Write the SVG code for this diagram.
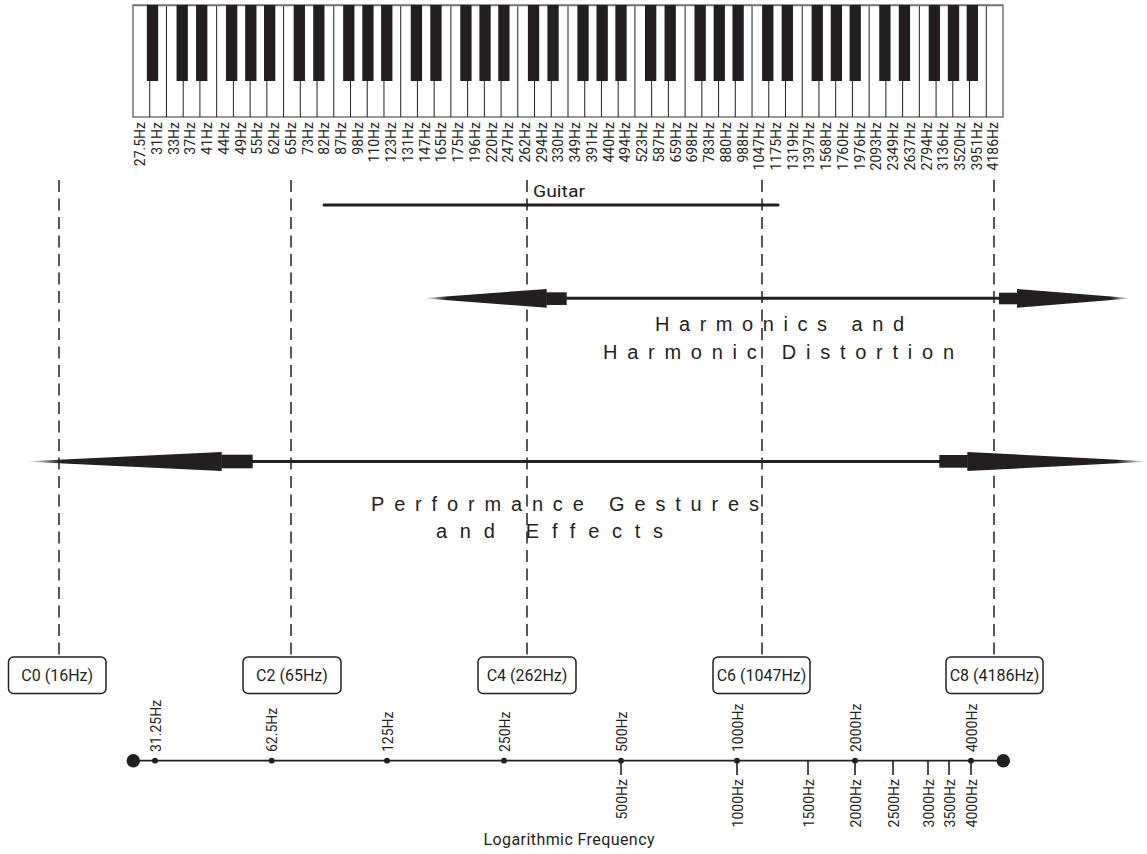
<svg xmlns="http://www.w3.org/2000/svg" width="1147" height="854" viewBox="0 0 1147 854">
<style>
.k{font-family:Roboto,"Liberation Sans",sans-serif;font-size:14px;fill:#231f20;text-anchor:end}
.au{font-family:Roboto,"Liberation Sans",sans-serif;font-size:14px;fill:#231f20;text-anchor:start}
.ad{font-family:Roboto,"Liberation Sans",sans-serif;font-size:14px;fill:#231f20;text-anchor:end}
.bx rect{fill:#fff;stroke:#231f20;stroke-width:1.5}
.bx text{font-family:Roboto,"Liberation Sans",sans-serif;font-size:16px;fill:#231f20;text-anchor:middle}
.big{font-family:"Liberation Sans",Arial,sans-serif;font-size:20px;fill:#231f20}
.dash{stroke:#231f20;stroke-width:1.5;stroke-dasharray:12 6.5;fill:none}
.bk{fill:#231f20}
.dot{fill:#231f20}
.tick{stroke:#231f20;stroke-width:1.6}
</style>
<defs>
<linearGradient id="fadeL" x1="0" y1="0" x2="1" y2="0">
<stop offset="0" stop-color="#231f20" stop-opacity="0"/>
<stop offset="0.18" stop-color="#231f20" stop-opacity="1"/>
<stop offset="1" stop-color="#231f20" stop-opacity="1"/>
</linearGradient>
<linearGradient id="fadeR" x1="0" y1="0" x2="1" y2="0">
<stop offset="0" stop-color="#231f20" stop-opacity="1"/>
<stop offset="0.83" stop-color="#231f20" stop-opacity="1"/>
<stop offset="1" stop-color="#231f20" stop-opacity="0"/>
</linearGradient>
</defs>
<rect width="1147" height="854" fill="#fff"/>

<g id="keyboard">
<rect x="133" y="5" width="870" height="112" fill="#fff" stroke="#555" stroke-width="1.2"/>
<path stroke="#231f20" stroke-width="1" fill="none" d="M149.73 5V117M166.46 5V117M183.19 5V117M199.92 5V117M216.65 5V117M233.38 5V117M250.12 5V117M266.85 5V117M283.58 5V117M300.31 5V117M317.04 5V117M333.77 5V117M350.5 5V117M367.23 5V117M383.96 5V117M400.69 5V117M417.42 5V117M434.15 5V117M450.88 5V117M467.62 5V117M484.35 5V117M501.08 5V117M517.81 5V117M534.54 5V117M551.27 5V117M568 5V117M584.73 5V117M601.46 5V117M618.19 5V117M634.92 5V117M651.65 5V117M668.38 5V117M685.12 5V117M701.85 5V117M718.58 5V117M735.31 5V117M752.04 5V117M768.77 5V117M785.5 5V117M802.23 5V117M818.96 5V117M835.69 5V117M852.42 5V117M869.15 5V117M885.88 5V117M902.62 5V117M919.35 5V117M936.08 5V117M952.81 5V117M969.54 5V117M986.27 5V117"/>
<line x1="133" y1="5.5" x2="1003" y2="5.5" stroke="#777" stroke-width="1.5"/>
<g class="bk">
<rect x="146.88" y="5" width="11.3" height="76"/>
<rect x="176.54" y="5" width="11.3" height="76"/>
<rect x="196.07" y="5" width="11.3" height="76"/>
<rect x="226.03" y="5" width="11.3" height="76"/>
<rect x="245.17" y="5" width="11.3" height="76"/>
<rect x="264" y="5" width="11.3" height="76"/>
<rect x="293.66" y="5" width="11.3" height="76"/>
<rect x="313.19" y="5" width="11.3" height="76"/>
<rect x="343.15" y="5" width="11.3" height="76"/>
<rect x="362.28" y="5" width="11.3" height="76"/>
<rect x="381.11" y="5" width="11.3" height="76"/>
<rect x="410.77" y="5" width="11.3" height="76"/>
<rect x="430.3" y="5" width="11.3" height="76"/>
<rect x="460.27" y="5" width="11.3" height="76"/>
<rect x="479.4" y="5" width="11.3" height="76"/>
<rect x="498.23" y="5" width="11.3" height="76"/>
<rect x="527.89" y="5" width="11.3" height="76"/>
<rect x="547.42" y="5" width="11.3" height="76"/>
<rect x="577.38" y="5" width="11.3" height="76"/>
<rect x="596.51" y="5" width="11.3" height="76"/>
<rect x="615.34" y="5" width="11.3" height="76"/>
<rect x="645" y="5" width="11.3" height="76"/>
<rect x="664.53" y="5" width="11.3" height="76"/>
<rect x="694.5" y="5" width="11.3" height="76"/>
<rect x="713.63" y="5" width="11.3" height="76"/>
<rect x="732.46" y="5" width="11.3" height="76"/>
<rect x="762.12" y="5" width="11.3" height="76"/>
<rect x="781.65" y="5" width="11.3" height="76"/>
<rect x="811.61" y="5" width="11.3" height="76"/>
<rect x="830.74" y="5" width="11.3" height="76"/>
<rect x="849.57" y="5" width="11.3" height="76"/>
<rect x="879.23" y="5" width="11.3" height="76"/>
<rect x="898.77" y="5" width="11.3" height="76"/>
<rect x="928.73" y="5" width="11.3" height="76"/>
<rect x="947.86" y="5" width="11.3" height="76"/>
<rect x="966.69" y="5" width="11.3" height="76"/>
</g>
<g id="key-labels">
<text class="k" transform="translate(145.2,122) rotate(-90)">27.5Hz</text>
<text class="k" transform="translate(161.9,122) rotate(-90)">31Hz</text>
<text class="k" transform="translate(178.6,122) rotate(-90)">33Hz</text>
<text class="k" transform="translate(195.4,122) rotate(-90)">37Hz</text>
<text class="k" transform="translate(212.1,122) rotate(-90)">41Hz</text>
<text class="k" transform="translate(228.8,122) rotate(-90)">44Hz</text>
<text class="k" transform="translate(245.6,122) rotate(-90)">49Hz</text>
<text class="k" transform="translate(262.3,122) rotate(-90)">55Hz</text>
<text class="k" transform="translate(279,122) rotate(-90)">62Hz</text>
<text class="k" transform="translate(295.8,122) rotate(-90)">65Hz</text>
<text class="k" transform="translate(312.5,122) rotate(-90)">73Hz</text>
<text class="k" transform="translate(329.2,122) rotate(-90)">82Hz</text>
<text class="k" transform="translate(345.9,122) rotate(-90)">87Hz</text>
<text class="k" transform="translate(362.7,122) rotate(-90)">98Hz</text>
<text class="k" transform="translate(379.4,122) rotate(-90)">110Hz</text>
<text class="k" transform="translate(396.1,122) rotate(-90)">123Hz</text>
<text class="k" transform="translate(412.9,122) rotate(-90)">131Hz</text>
<text class="k" transform="translate(429.6,122) rotate(-90)">147Hz</text>
<text class="k" transform="translate(446.3,122) rotate(-90)">165Hz</text>
<text class="k" transform="translate(463.1,122) rotate(-90)">175Hz</text>
<text class="k" transform="translate(479.8,122) rotate(-90)">196Hz</text>
<text class="k" transform="translate(496.5,122) rotate(-90)">220Hz</text>
<text class="k" transform="translate(513.3,122) rotate(-90)">247Hz</text>
<text class="k" transform="translate(530,122) rotate(-90)">262Hz</text>
<text class="k" transform="translate(546.7,122) rotate(-90)">294Hz</text>
<text class="k" transform="translate(563.4,122) rotate(-90)">330Hz</text>
<text class="k" transform="translate(580.2,122) rotate(-90)">349Hz</text>
<text class="k" transform="translate(596.9,122) rotate(-90)">391Hz</text>
<text class="k" transform="translate(613.6,122) rotate(-90)">440Hz</text>
<text class="k" transform="translate(630.4,122) rotate(-90)">494Hz</text>
<text class="k" transform="translate(647.1,122) rotate(-90)">523Hz</text>
<text class="k" transform="translate(663.8,122) rotate(-90)">587Hz</text>
<text class="k" transform="translate(680.6,122) rotate(-90)">659Hz</text>
<text class="k" transform="translate(697.3,122) rotate(-90)">698Hz</text>
<text class="k" transform="translate(714,122) rotate(-90)">783Hz</text>
<text class="k" transform="translate(730.8,122) rotate(-90)">880Hz</text>
<text class="k" transform="translate(747.5,122) rotate(-90)">988Hz</text>
<text class="k" transform="translate(764.2,122) rotate(-90)">1047Hz</text>
<text class="k" transform="translate(780.9,122) rotate(-90)">1175Hz</text>
<text class="k" transform="translate(797.7,122) rotate(-90)">1319Hz</text>
<text class="k" transform="translate(814.4,122) rotate(-90)">1397Hz</text>
<text class="k" transform="translate(831.1,122) rotate(-90)">1568Hz</text>
<text class="k" transform="translate(847.9,122) rotate(-90)">1760Hz</text>
<text class="k" transform="translate(864.6,122) rotate(-90)">1976Hz</text>
<text class="k" transform="translate(881.3,122) rotate(-90)">2093Hz</text>
<text class="k" transform="translate(898.1,122) rotate(-90)">2349Hz</text>
<text class="k" transform="translate(914.8,122) rotate(-90)">2637Hz</text>
<text class="k" transform="translate(931.5,122) rotate(-90)">2794Hz</text>
<text class="k" transform="translate(948.3,122) rotate(-90)">3136Hz</text>
<text class="k" transform="translate(965,122) rotate(-90)">3520Hz</text>
<text class="k" transform="translate(981.7,122) rotate(-90)">3951Hz</text>
<text class="k" transform="translate(998.4,122) rotate(-90)">4186Hz</text>
</g>
</g>

<g id="connectors">
<g id="dashed-lines">
<line class="dash" x1="59" y1="180" x2="59" y2="657"/>
<line class="dash" x1="291" y1="180" x2="291" y2="657"/>
<line class="dash" x1="527" y1="180" x2="527" y2="657"/>
<line class="dash" x1="762" y1="180" x2="762" y2="657"/>
<line class="dash" x1="994" y1="180" x2="994" y2="657"/>
</g>
<g id="guitar-range">
<line x1="324" y1="205" x2="778" y2="205" stroke="#231f20" stroke-width="3" stroke-linecap="round"/>
</g>
<g id="harmonics-arrow">
<line x1="566" y1="298.3" x2="1000" y2="298.3" stroke="#231f20" stroke-width="3"/>
<polygon points="425,298 546.7,289 546.7,307.7 425,298.6" fill="url(#fadeL)"/>
<rect x="546.2" y="292.3" width="20.5" height="12.7" fill="#231f20"/>
<rect x="999" y="292.7" width="18.5" height="11.6" fill="#231f20"/>
<polygon points="1017,289 1130,298 1130,298.6 1017,307.7" fill="url(#fadeR)"/>
</g>
<g id="performance-arrow">
<line x1="252" y1="461.5" x2="940" y2="461.5" stroke="#231f20" stroke-width="3"/>
<polygon points="27,461.2 221.7,452 221.7,471 27,461.8" fill="url(#fadeL)"/>
<rect x="221.2" y="454.7" width="31.5" height="13.6" fill="#231f20"/>
<rect x="939.3" y="455" width="28.5" height="12.7" fill="#231f20"/>
<polygon points="967.3,452 1147,461.2 1147,461.8 967.3,471" fill="url(#fadeR)"/>
</g>
</g>

<g id="guitar-label">
<text x="533" y="197" font-family="Roboto,'Liberation Sans',sans-serif" font-size="17" fill="#231f20" textLength="52" lengthAdjust="spacingAndGlyphs">Guitar</text>
</g>
<g id="harmonics-label">
<text class="big" x="655" y="331" textLength="249" lengthAdjust="spacing">Harmonics and</text>
<text class="big" x="603" y="358.5" textLength="351" lengthAdjust="spacing">Harmonic Distortion</text>
</g>
<g id="performance-label">
<text class="big" x="371" y="510.5" textLength="388" lengthAdjust="spacing">Performance Gestures</text>
<text class="big" x="436" y="537.5" textLength="227" lengthAdjust="spacing">and Effects</text>
</g>

<g id="box-c0" class="bx"><rect x="8.5" y="657" width="97.5" height="36.5" rx="5"/><text x="57.2" y="681">C0 (16Hz)</text></g>
<g id="box-c2" class="bx"><rect x="243" y="657" width="98" height="36.5" rx="5"/><text x="292" y="681">C2 (65Hz)</text></g>
<g id="box-c4" class="bx"><rect x="478" y="657" width="98" height="36.5" rx="5"/><text x="527" y="681">C4 (262Hz)</text></g>
<g id="box-c6" class="bx"><rect x="713" y="657" width="97" height="36.5" rx="5"/><text x="761.5" y="681">C6 (1047Hz)</text></g>
<g id="box-c8" class="bx"><rect x="946" y="657" width="97" height="36.5" rx="5"/><text x="994.5" y="681">C8 (4186Hz)</text></g>

<g id="log-axis">
<line x1="133" y1="760.7" x2="1003" y2="760.7" stroke="#231f20" stroke-width="1.8"/>
<circle class="dot" cx="133.3" cy="760.7" r="6.7"/>
<circle class="dot" cx="1003.3" cy="760.7" r="6.7"/>
<path class="tick" d="M621 760V775M737 760V775M808 760V775M855 760V775M893 760V775M928 760V775M949 760V775M971 760V775"/>
<g class="dot">
<circle cx="155" cy="760.7" r="2.9"/>
<circle cx="271.7" cy="760.7" r="2.9"/>
<circle cx="387" cy="760.7" r="2.9"/>
<circle cx="504" cy="760.7" r="2.9"/>
<circle cx="621" cy="760.7" r="2.9"/>
<circle cx="737" cy="760.7" r="2.9"/>
<circle cx="855" cy="760.7" r="2.9"/>
<circle cx="971" cy="760.7" r="2.9"/>
</g>
<text class="au" transform="translate(160.5,752) rotate(-90)">31.25Hz</text>
<text class="au" transform="translate(277.2,752) rotate(-90)">62.5Hz</text>
<text class="au" transform="translate(392.5,752) rotate(-90)">125Hz</text>
<text class="au" transform="translate(509.5,752) rotate(-90)">250Hz</text>
<text class="au" transform="translate(626.5,752) rotate(-90)">500Hz</text>
<text class="au" transform="translate(742.5,752) rotate(-90)">1000Hz</text>
<text class="au" transform="translate(860.5,752) rotate(-90)">2000Hz</text>
<text class="au" transform="translate(976.5,752) rotate(-90)">4000Hz</text>
<text class="ad" transform="translate(626.5,779) rotate(-90)">500Hz</text>
<text class="ad" transform="translate(742.5,779) rotate(-90)">1000Hz</text>
<text class="ad" transform="translate(813.5,779) rotate(-90)">1500Hz</text>
<text class="ad" transform="translate(860.5,779) rotate(-90)">2000Hz</text>
<text class="ad" transform="translate(898.5,779) rotate(-90)">2500Hz</text>
<text class="ad" transform="translate(933.5,779) rotate(-90)">3000Hz</text>
<text class="ad" transform="translate(954.5,779) rotate(-90)">3500Hz</text>
<text class="ad" transform="translate(976.5,779) rotate(-90)">4000Hz</text>
<text x="569" y="845" font-family="Roboto,'Liberation Sans',sans-serif" font-size="16" fill="#231f20" text-anchor="middle" textLength="171" lengthAdjust="spacing">Logarithmic Frequency</text>
</g>
</svg>
